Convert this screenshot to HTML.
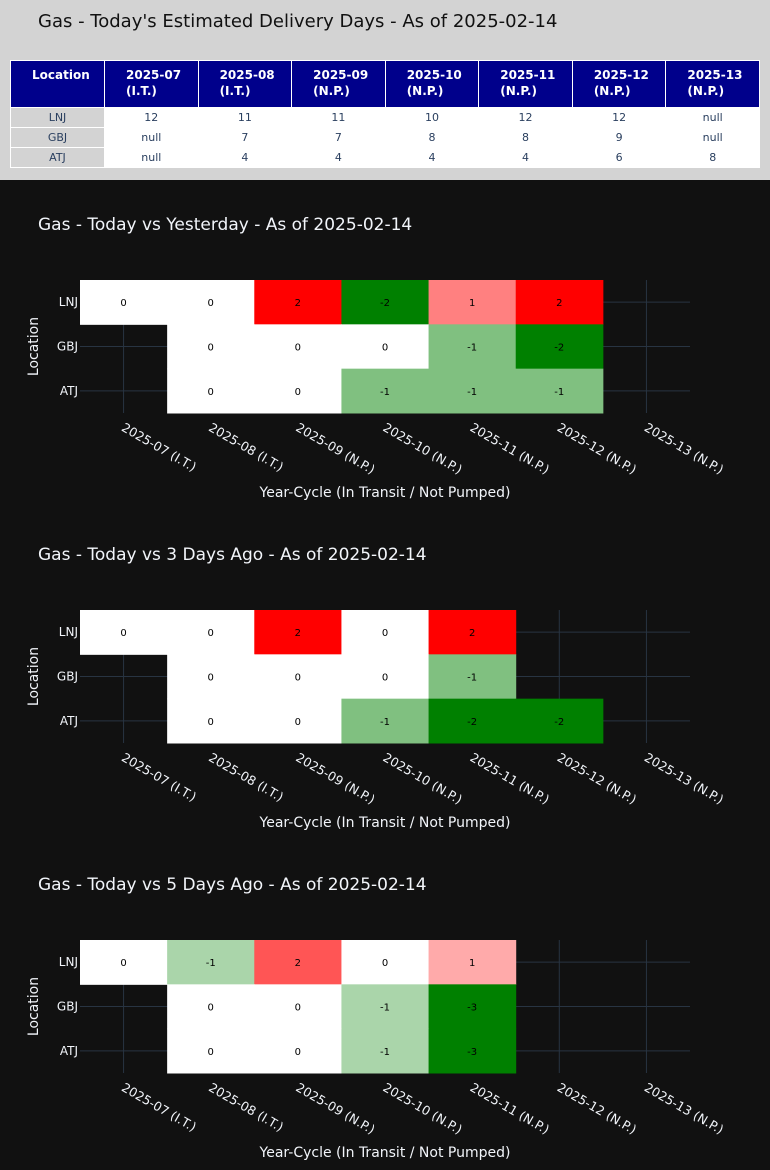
<!DOCTYPE html>
<html><head><meta charset="utf-8">
<style>
body{margin:0;width:770px;height:1170px;background:#111111;font-family:"DejaVu Sans","Liberation Sans",sans-serif;overflow:hidden}
#top{position:absolute;left:0;top:0;width:770px;height:180px;background:#d3d3d3}
#ttl{position:absolute;left:38px;top:11px;font-size:18px;color:#111}
table{position:absolute;left:10px;top:60px;border-collapse:collapse;table-layout:fixed;width:750px}
th{background:#00008b;color:#fff;font-size:12px;font-weight:bold;text-align:left;padding:6px 0 0 21px;height:40px;vertical-align:top;border:1px solid #fff;line-height:16px}
td{height:19px;font-size:11px;color:#2a3f5f;text-align:center;border:1px solid #fff;background:#fff;padding:0}
td.loc{background:#d3d3d3;border:1px solid #fff}
</style></head><body>
<div id="top">
<div id="ttl">Gas - Today's Estimated Delivery Days - As of 2025-02-14</div>
<table>
<tr><th style="width:72px">Location</th><th>2025-07<br>(I.T.)</th><th>2025-08<br>(I.T.)</th><th>2025-09<br>(N.P.)</th><th>2025-10<br>(N.P.)</th><th>2025-11<br>(N.P.)</th><th>2025-12<br>(N.P.)</th><th>2025-13<br>(N.P.)</th></tr>
<tr><td class="loc">LNJ</td><td>12</td><td>11</td><td>11</td><td>10</td><td>12</td><td>12</td><td>null</td></tr>
<tr><td class="loc">GBJ</td><td>null</td><td>7</td><td>7</td><td>8</td><td>8</td><td>9</td><td>null</td></tr>
<tr><td class="loc">ATJ</td><td>null</td><td>4</td><td>4</td><td>4</td><td>4</td><td>6</td><td>8</td></tr>
</table>
</div>
<svg id="charts" width="770" height="1170" style="position:absolute;left:0;top:0"></svg>
<script>
const categories=["2025-07 (I.T.)","2025-08 (I.T.)","2025-09 (N.P.)","2025-10 (N.P.)","2025-11 (N.P.)","2025-12 (N.P.)","2025-13 (N.P.)"];
const locations=["LNJ","GBJ","ATJ"];
const titles=["Gas - Today vs Yesterday - As of 2025-02-14","Gas - Today vs 3 Days Ago - As of 2025-02-14","Gas - Today vs 5 Days Ago - As of 2025-02-14"];
const yesterdayLNJ=[0,0,2,-2,1,2,null];
const yesterdayGBJ=[null,0,0,0,-1,-2,null];
const yesterdayATJ=[null,0,0,-1,-1,-1,null];
const threeDayLNJ=[0,0,2,0,2,null,null];
const threeDayGBJ=[null,0,0,0,-1,null,null];
const threeDayATJ=[null,0,0,-1,-2,-2,null];
const fiveDayLNJ=[0,-1,2,0,1,null,null];
const fiveDayGBJ=[null,0,0,-1,-3,null,null];
const fiveDayATJ=[null,0,0,-1,-3,null,null];
const charts=[[yesterdayLNJ,yesterdayGBJ,yesterdayATJ],[threeDayLNJ,threeDayGBJ,threeDayATJ],[fiveDayLNJ,fiveDayGBJ,fiveDayATJ]];
const NS="http://www.w3.org/2000/svg";
const svg=document.getElementById('charts');
function mk(tag,attrs,parent){const e=document.createElementNS(NS,tag);for(const k in attrs)e.setAttribute(k,attrs[k]);(parent||svg).appendChild(e);return e;}
function color(v,m){const t=m?Math.abs(v)/m:0;let c=v>0?[255,0,0]:[0,128,0];const r=Math.round(255+(c[0]-255)*t),g=Math.round(255+(c[1]-255)*t),b=Math.round(255+(c[2]-255)*t);return `rgb(${r},${g},${b})`;}
const X0=80,X1=690,cw=(X1-X0)/categories.length;
charts.forEach((rows,ci)=>{
  const off=ci*330,Y0=280+off,Y1=413+off,rh=(Y1-Y0)/locations.length;
  const xc=i=>X0+cw*(i+0.5), yc=j=>Y0+rh*(j+0.5);
  const g=mk('g',{});
  
  
  const t=mk('text',{x:38,y:230+off,fill:'#f2f5fa','font-size':17},g);t.textContent=titles[ci];
  
  
  categories.forEach((c,i)=>{const l=mk('line',{x1:xc(i),x2:xc(i),y1:Y0,y2:Y1,stroke:'#283442','stroke-width':1},g);});
  locations.forEach((c,j)=>{const l=mk('line',{x1:X0,x2:X1,y1:yc(j),y2:yc(j),stroke:'#283442','stroke-width':1},g);});
  let m=0;rows.forEach(r=>r.forEach(v=>{if(v!==null)m=Math.max(m,Math.abs(v));}));
  rows.forEach((r,j)=>r.forEach((v,i)=>{
    if(v===null)return;
    const rc=mk('rect',{x:X0+cw*i,y:Y0+rh*j,width:cw+0.5,height:rh+0.5,fill:color(v,m)},g);
    
    
    const tx=mk('text',{x:xc(i),y:yc(j)+4,'text-anchor':'middle','font-size':10,fill:'#000'},g);tx.textContent=v;
    
    
  }));
  locations.forEach((c,j)=>{const tx=mk('text',{x:X0-2,y:yc(j)+4,'text-anchor':'end','font-size':12,fill:'#f2f5fa'},g);tx.textContent=c;});
  categories.forEach((c,i)=>{const x=xc(i)-3,y=Y1+17;const tx=mk('text',{x:x,y:y,'font-size':12.5,fill:'#f2f5fa',transform:`rotate(30 ${x} ${y})`},g);tx.textContent=c;});
  const xt=mk('text',{x:385,y:Y1+84,'text-anchor':'middle','font-size':14,fill:'#f2f5fa'},g);xt.textContent='Year-Cycle (In Transit / Not Pumped)';
  
  
  const yy=(Y0+Y1)/2;const yt=mk('text',{x:38,y:yy,'text-anchor':'middle','font-size':14,fill:'#f2f5fa',transform:`rotate(-90 38 ${yy})`},g);yt.textContent='Location';
  
  
});
</script>
</body></html>
